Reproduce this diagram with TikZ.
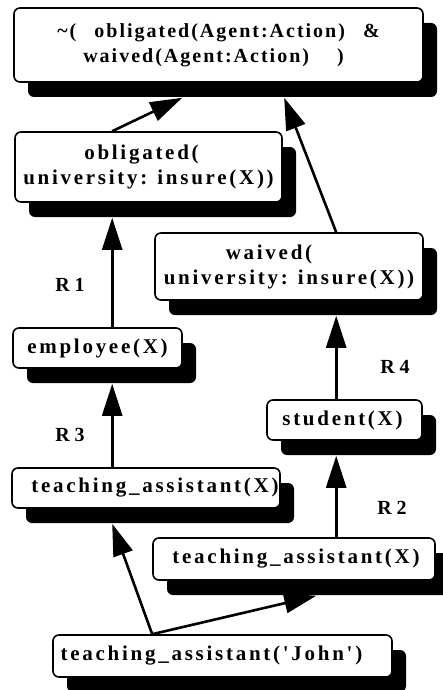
\documentclass[tikz,border=0pt]{standalone}
\usepackage{fontspec}
\newfontfamily\labfont[LetterSpace=13]{Liberation Serif}
\newfontfamily\topfont[LetterSpace=10]{Liberation Serif}
\usetikzlibrary{arrows.meta,shadows}
\begin{document}
\begin{tikzpicture}[x=1pt,y=-1pt,
  box/.style={draw, line width=1.6pt, fill=white, rounded corners=6pt, inner sep=0pt,
    align=center, font=\labfont\bfseries\fontsize{21}{25}\selectfont,
    drop shadow={shadow xshift=14pt, shadow yshift=-15pt, opacity=1, fill=black}},
  topbox/.style={box, font=\topfont\bfseries\fontsize{20}{25}\selectfont},
  arr/.style={line width=2.6pt, -{Triangle[length=32pt,width=20pt]}},
  rlab/.style={font=\labfont\bfseries\fontsize{20}{22}\selectfont}
]
\useasboundingbox[fill=white] (0,0) rectangle (443,690);

\node[topbox, minimum width=409pt, minimum height=74pt] (top) at (218.5,45)
  {\textasciitilde(\hspace{18pt}obligated(Agent:Action)\hspace{18pt}\&\\
   waived(Agent:Action)\hspace{28pt})\hspace*{10pt}};
\node[box, minimum width=267pt, minimum height=70pt] (obl) at (148.5,167)
  {obligated(\hspace*{14pt}\\university:\hspace{10pt}insure(X))};
\node[box, minimum width=268pt, minimum height=67pt] (wai) at (289,266.5)
  {waived(\hspace*{40pt}\\university:\hspace{10pt}insure(X))};
\node[box, minimum width=169pt, minimum height=40pt] (emp) at (97.5,348)
  {employee(X)};
\node[box, minimum width=155pt, minimum height=40pt] (stu) at (344.5,420)
  {student(X)\hspace*{4pt}};
\node[box, minimum width=268pt, minimum height=40pt] (ta1) at (146,488)
  {\hspace*{18pt}teaching\_assistant(X)};
\node[box, minimum width=282pt, minimum height=42pt] (ta2) at (294,559)
  {\hspace*{4pt}teaching\_assistant(X)};
\node[box, minimum width=339pt, minimum height=42pt] (john) at (222.5,656)
  {teaching\_assistant('John')\hspace*{22pt}};

\node[rlab] (r1) at (70,285) {R\hspace{5pt}1};
\node[rlab] (r3) at (70,435) {R\hspace{5pt}3};
\node[rlab] (r4) at (395,367) {R\hspace{5pt}4};
\node[rlab] (r2) at (392,508) {R\hspace{5pt}2};

\draw[arr] ([xshift=98pt]obl.north west) -- ([xshift=169pt,yshift=-15pt]top.south west);
\draw[arr] ([xshift=182pt]wai.north west) -- ([xshift=271pt,yshift=-15pt]top.south west);
\draw[arr] ([xshift=100pt]emp.north west) -- ([xshift=98pt,yshift=-15pt]obl.south west);
\draw[arr] ([xshift=101pt]ta1.north west) -- ([xshift=100pt,yshift=-15pt]emp.south west);
\draw[arr] ([xshift=70pt]stu.north west) -- ([xshift=182pt,yshift=-15pt]wai.south west);
\draw[arr] ([xshift=184pt]ta2.north west) -- ([xshift=70pt,yshift=-15pt]stu.south west);
\draw[arr] ([xshift=100pt]john.north west) -- ([xshift=101pt,yshift=-15pt]ta1.south west);
\draw[arr] ([xshift=100pt]john.north west) -- ([xshift=164pt,yshift=-15pt]ta2.south west);
\end{tikzpicture}
\end{document}
